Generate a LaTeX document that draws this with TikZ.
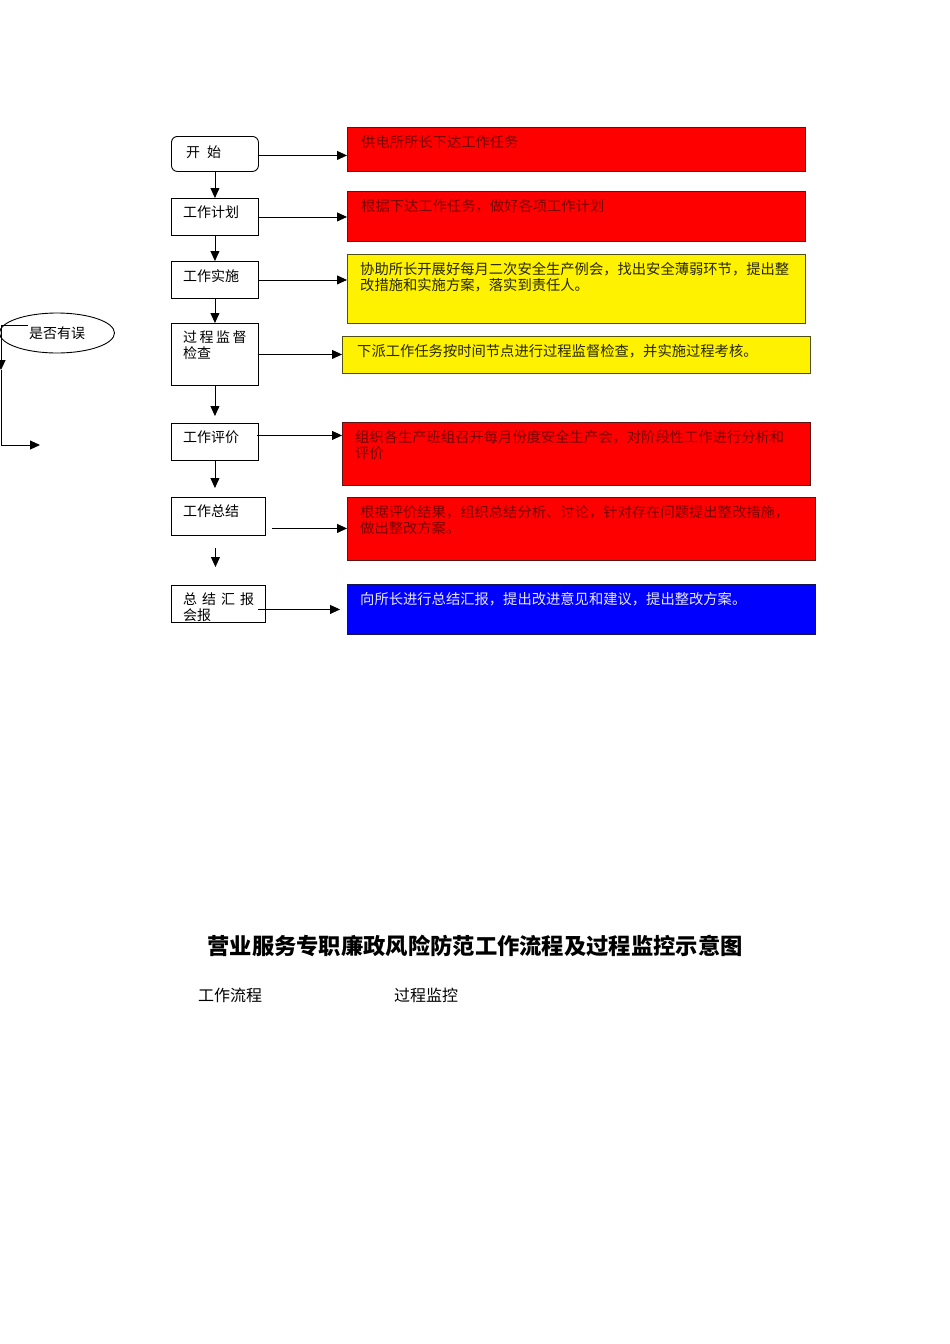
\documentclass[tikz,border=0pt]{standalone}
\usepackage{fontspec}
\newfontfamily\cjk{Noto Sans CJK SC}
\usetikzlibrary{arrows.meta,shapes.geometric}
\definecolor{redtxt}{RGB}{120,0,0}
\definecolor{yeltxt}{RGB}{40,40,0}
\definecolor{bluetxt}{RGB}{230,230,255}
\definecolor{redline}{RGB}{90,20,20}
\definecolor{yelline}{RGB}{80,80,20}
\definecolor{blueline}{RGB}{20,20,80}
\tikzset{
  flow/.style={draw=black, line width=0.9pt, anchor=north west, inner sep=0pt, minimum width=87pt, minimum height=37pt},
  mon/.style={line width=0.9pt, anchor=north west, inner sep=0pt},
  redbox/.style={mon, fill=red, draw=redline},
  yelbox/.style={mon, fill=yellow, draw=yelline},
  bluebox/.style={mon, fill=blue, draw=blueline},
  txt/.style={anchor=north west, inner sep=0pt, align=left, font=\cjk\fontsize{14}{16}\selectfont},
  mtxt/.style={txt, font=\cjk\fontsize{14.3}{16}\selectfont},
  arr/.style={line width=0.9pt, -{Triangle[length=10pt,width=9pt]}},
}
\begin{document}
\begin{tikzpicture}[x=1pt,y=-1pt]
\useasboundingbox (0,0) rectangle (950,1344);
% flow boxes
\node[flow, rounded corners=6pt, minimum height=35pt] (n1) at (171,136) {};
\node[flow] (n2) at (171,198) {};
\node[flow] (n3) at (171,261) {};
\node[flow, minimum height=62pt] (n4) at (171,323) {};
\node[flow] (n5) at (171,423) {};
\node[flow, minimum width=94pt, minimum height=38pt] (n6) at (171,497) {};
\node[flow, minimum width=94pt] (n7) at (171,585) {};
\node[txt] (t1) at (186,146) {开\hspace{7pt}始};
\node[txt] (t2) at (183,206) {工作计划};
\node[txt] (t3) at (183,269) {工作实施};
\node[txt] (t4) at (183,331) {过\hspace{2.5pt}程\hspace{2.5pt}监\hspace{2.5pt}督\\检查};
\node[txt] (t5) at (183,431) {工作评价};
\node[txt] (t6) at (183,505) {工作总结};
\node[txt] (t7) at (183,593) {总\hspace{5pt}结\hspace{5pt}汇\hspace{5pt}报\\会报};
% monitor boxes
\node[redbox, minimum width=458pt, minimum height=44pt] (m1) at (347,127) {};
\node[redbox, minimum width=458pt, minimum height=50pt] (m2) at (347,191) {};
\node[yelbox, minimum width=458pt, minimum height=69pt] (m3) at (347,254) {};
\node[yelbox, minimum width=468pt, minimum height=37pt] (m4) at (342,336) {};
\node[redbox, minimum width=468pt, minimum height=63pt] (m5) at (342,422) {};
\node[redbox, minimum width=468pt, minimum height=63pt] (m6) at (347,497) {};
\node[bluebox, minimum width=468pt, minimum height=50pt] (m7) at (347,584) {};
\node[mtxt, text=redtxt] (u1) at (361,135) {供电所所长下达工作任务};
\node[mtxt, text=redtxt] (u2) at (361,199) {根据下达工作任务，做好各项工作计划};
\node[mtxt, text=yeltxt] (u3) at (360,262) {协助所长开展好每月二次安全生产例会，找出安全薄弱环节，提出整\\改措施和实施方案，落实到责任人。};
\node[mtxt, text=yeltxt] (u4) at (357,344) {下派工作任务按时间节点进行过程监督检查，并实施过程考核。};
\node[mtxt, text=redtxt] (u5) at (355,430) {组织各生产班组召开每月份度安全生产会，对阶段性工作进行分析和\\评价};
\node[mtxt, text=redtxt] (u6) at (360,505) {根据评价结果，组织总结分析、讨论，针对存在问题提出整改措施，\\做出整改方案。};
\node[mtxt, text=bluetxt] (u7) at (360,592) {向所长进行总结汇报，提出改进意见和建议，提出整改方案。};
% vertical arrows
\draw[arr] (n1.south) -- (n2.north);
\draw[arr] (n2.south) -- (n3.north);
\draw[arr] (n3.south) -- (n4.north);
\draw[arr, shorten >=7pt] (n4.south) -- (n5.north);
\draw[arr, shorten >=9pt] (n5.south) -- (n5.south |- n6.north);
\draw[arr, shorten <=12pt, shorten >=18pt] ([xshift=-3pt]n6.south) -- ([xshift=-3pt]n7.north);
% horizontal arrows
\draw[arr] (n1.east) ++(0,1.5) coordinate (s1) -- (s1 -| m1.west);
\draw[arr] (n2.east) -- (n2.east -| m2.west);
\draw[arr] (n3.east) -- (n3.east -| m3.west);
\draw[arr] (n4.east) -- (n4.east -| m4.west);
\draw[arr] (n5.east) ++(-2,-6.5) coordinate (s5) -- (s5 -| m5.west);
\draw[arr] (n6.east) ++(6,12) coordinate (s6) -- (s6 -| m6.west);
\draw[arr] (n7.east) ++(-8,5.5) coordinate (s7) -- ([xshift=-7pt]s7 -| m7.west);
% loop at left
\node[draw=black, line width=0.9pt, ellipse, minimum width=115pt, minimum height=40pt, inner sep=0pt, font=\cjk\fontsize{14}{16}\selectfont] (e) at (57,333) {是否有误};
\coordinate (lp1) at (1,370);
\coordinate (lp2) at (40,445);
\draw[arr] (e.center) ++(-29,-8) -| (lp1);
\draw[arr] (lp1) |- (lp2);
% title and headings
\node[font=\cjk\bfseries\fontsize{22.3}{26}\selectfont] (title) at (475,946) {营业服务专职廉政风险防范工作流程及过程监控示意图};
\node[anchor=west, inner sep=0pt, font=\cjk\fontsize{16}{18}\selectfont] (h1) at (198,995) {工作流程};
\node[anchor=west, inner sep=0pt, font=\cjk\fontsize{16}{18}\selectfont] (h2) at (394,995) {过程监控};
\end{tikzpicture}
\end{document}
